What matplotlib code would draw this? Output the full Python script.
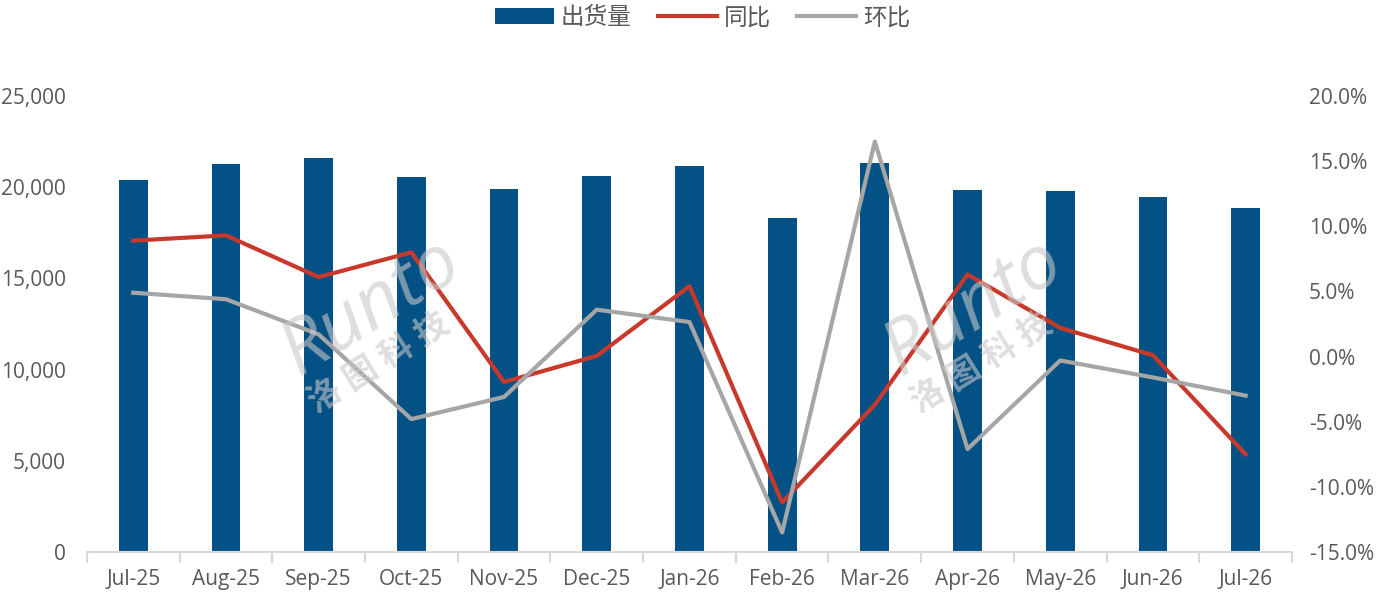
import matplotlib.pyplot as plt
import matplotlib.ticker as mticker

plt.rcParams['font.family'] = ['Open Sans', 'Noto Sans CJK SC', 'DejaVu Sans']

months = ['Jul-25', 'Aug-25', 'Sep-25', 'Oct-25', 'Nov-25', 'Dec-25', 'Jan-26',
          'Feb-26', 'Mar-26', 'Apr-26', 'May-26', 'Jun-26', 'Jul-26']
shipments = [20400, 21270, 21600, 20560, 19900, 20610, 21160,
             18310, 21330, 19850, 19790, 19460, 18860]
yoy = [8.9, 9.3, 6.1, 8.0, -1.95, 0.05, 5.4, -11.2, -3.7, 6.3, 2.2, 0.1, -7.5]
mom = [4.9, 4.4, 1.7, -4.8, -3.1, 3.6, 2.65, -13.5, 16.5, -7.1, -0.3, -1.6, -3.0]

bar_color = '#045185'
red = '#c9392b'
gray = '#a6a6a6'
text_color = '#595959'

fig = plt.figure(figsize=(13.91, 5.97), dpi=100)
ax = fig.add_axes([0.0625, 0.0754, 0.8663, 0.7638])
ax2 = ax.twinx()

x = range(len(months))
bars = ax.bar(x, shipments, width=0.31, color=bar_color, zorder=2, label='出货量')
l1, = ax2.plot(x, [v / 100 for v in yoy], color=red, lw=3, zorder=3, label='同比')
l2, = ax2.plot(x, [v / 100 for v in mom], color=gray, lw=3, zorder=3, label='环比')

ax.set_xlim(-0.5, len(months) - 0.5)
ax.set_ylim(0, 25000)
ax2.set_ylim(-0.15, 0.20)
ax.set_yticks(range(0, 25001, 5000))
ax.yaxis.set_major_formatter(mticker.FuncFormatter(lambda v, p: f'{int(v):,}'))
ax2.set_yticks([i / 100 for i in range(-15, 21, 5)])
ax2.yaxis.set_major_formatter(mticker.FuncFormatter(lambda v, p: f'{v * 100:.1f}%'))

ax.set_xticks(list(x))
ax.set_xticklabels(months)
ax.set_xticks([i - 0.5 for i in range(len(months) + 1)], minor=True)
ax.tick_params(axis='x', which='major', length=0, pad=12, labelsize=15, colors=text_color)
ax.tick_params(axis='x', which='minor', length=8, color='#d9d9d9', width=1.5)
ax.tick_params(axis='y', length=0, labelsize=15, colors=text_color, pad=15)
ax2.tick_params(axis='y', length=0, labelsize=15, colors=text_color, pad=12)

for a in (ax, ax2):
    for s in ['top', 'left', 'right']:
        a.spines[s].set_visible(False)
ax2.spines['bottom'].set_visible(False)
ax.spines['bottom'].set_color('#d9d9d9')
ax.spines['bottom'].set_linewidth(1.5)

# watermark
for wx in (0.267, 0.70):
    fig.text(wx, 0.485, 'Runto', fontsize=54, color='#c8c8c8', alpha=0.6,
             rotation=32, ha='center', va='center', style='italic', zorder=10)
    fig.text(wx + 0.006, 0.39, '洛 图 科 技', fontsize=24, color='#c8c8c8', alpha=0.6,
             rotation=32, ha='center', va='center', fontweight='bold', zorder=10)

fig.legend(handles=[bars, l1, l2], loc='upper center', bbox_to_anchor=(0.505, 1.025),
           ncol=3, frameon=False, fontsize=17, labelcolor=text_color,
           handlelength=2.5, handletextpad=0.3, columnspacing=1.1)

fig.savefig('out.png', dpi=100)
